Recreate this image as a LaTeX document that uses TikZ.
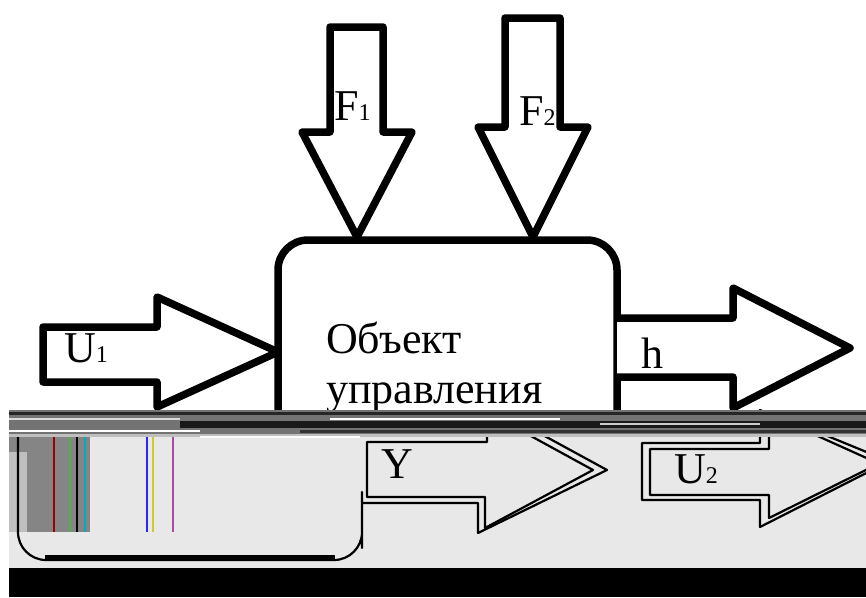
\documentclass[tikz,border=0pt]{standalone}
\usepackage{fontspec}
\setmainfont{Liberation Serif}
\newcommand\smallidx[1]{{\fontsize{24}{24}\selectfont #1}}
\begin{document}
\begin{tikzpicture}[x=1pt,y=-1pt,
  heavy/.style={draw=black,line width=7.5pt,line join=round,fill=white},
  ghost/.style={draw=black,line width=2.2pt,line join=round},
  lbl/.style={inner sep=0pt,anchor=base west,font=\fontsize{44}{50}\selectfont},
  vline/.style={line width=1.6pt}]
\clip (0,0) rectangle (866,597);
\fill[white] (0,0) rectangle (866,597);

% --- control object (upper part) ---
\draw[heavy,rounded corners=30pt] (278,460) -- (278,240) -- (617,240) -- (617,460);
\coordinate (boxtop1) at (357,237);
\coordinate (boxtop2) at (533,237);
\coordinate (boxleft) at (278,352);
\coordinate (boxright) at (617,348);

% F1
\draw[heavy] (330,27) -- (383,27) -- (383,132) -- (412,132) -- (boxtop1) -- (302,132) -- (330,132) -- cycle;
% F2
\draw[heavy] (505,18) -- (560,18) -- (560,127) -- (588,127) -- (boxtop2) -- (478,127) -- (505,127) -- cycle;
% U1
\draw[heavy] (43,327) -- (157,327) -- (157,297) -- (boxleft) -- (157,407) -- (157,382) -- (43,382) -- cycle;
% h
\draw[heavy] (617,318) -- (733,318) -- (733,288) -- (850,348) -- (733,408) -- (733,377) -- (617,377);

\node[lbl] (f1) at (334,120) {F\smallidx{1}};
\node[lbl] (f2) at (519,125) {F\smallidx{2}};
\node[lbl] (u1) at (64,362) {U\smallidx{1}};
\node[lbl] (hh) at (641,368) {h};
\node[lbl] (obj1) at (326,353) {Объект};
\node[lbl] (obj2) at (326,403) {управления};

% --- corrupted lower part ---
\fill[black!9] (9,437) rectangle (866,568);
\fill[black] (9,568) rectangle (866,597);
\fill[black!48] (9,437) rectangle (90,532);
\fill[black!25] (9,452) rectangle (27,532);
\draw[vline,red!60!black] (54,437) -- (54,532);
\draw[vline,green!40!gray] (70,437) -- (70,532);
\draw[vline,black] (77,437) -- (77,532);
\draw[vline,cyan!70!green] (85,437) -- (85,532);
\draw[vline,blue!85] (147,437) -- (147,532);
\draw[vline,yellow!80!black] (153,437) -- (153,532);
\draw[vline,violet!70] (173,437) -- (173,532);

% box bottom (shifted) joined to a ghost of the Y arrow
\draw[ghost] (18,437) [rounded corners=28pt] -- (18,560) -- (362,560) -- (362,520) [sharp corners] -- (362,503) -- (478,503) -- (478,533) -- (607,470) -- (530,428);
\draw[line width=6pt] (45,558) -- (335,558);

% Y arrow
\draw[ghost] (367,442) -- (487,442) -- (487,412) -- (593,470) -- (485,528) -- (485,497) -- (367,497) -- cycle;
\node[lbl] (yy) at (381,478) {Y};

% U2 arrow
\draw[ghost] (760,410) -- (760,443) -- (642,443) -- (642,500) -- (760,500) -- (760,527) -- (882,465) -- cycle;
\draw[ghost] (769,412) -- (769,449) -- (650,449) -- (650,495) -- (769,495) -- (769,518) -- (886,460) -- cycle;
\node[lbl] (u2) at (674,483) {U\smallidx{2}};

% glitch band
\fill[black!55] (9,410) rectangle (866,437);
\fill[black!85] (9,412) rectangle (866,415);
\fill[black!15] (9,418) rectangle (180,420);
\fill[white] (330,418) rectangle (560,420);
\fill[black!90] (180,421) rectangle (866,428);
\fill[black!20] (600,423) rectangle (760,425);
\fill[white] (9,430) rectangle (200,432);
\fill[black!80] (300,430) rectangle (866,433);
\fill[black!25] (9,434) rectangle (866,437);
\fill[white] (200,436) rectangle (360,438);
\end{tikzpicture}
\end{document}
